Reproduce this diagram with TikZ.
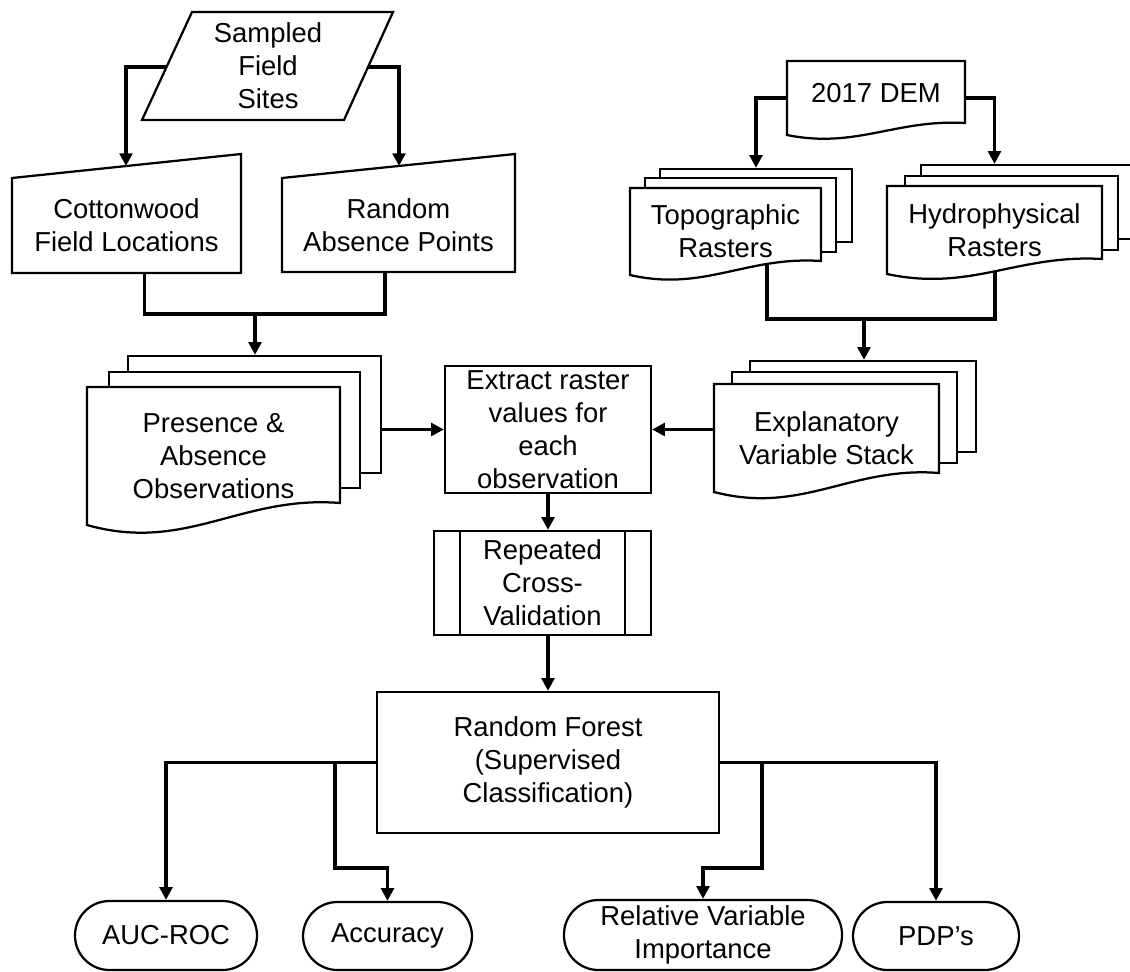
\documentclass[tikz,border=0pt]{standalone}
\usepackage{fontspec}
\setmainfont{Liberation Sans}
\usetikzlibrary{arrows.meta}
\usetikzlibrary{calc}

\begin{document}
\begin{tikzpicture}[x=0.025cm, y=-0.025cm,
    font=\fontsize{19.5}{23.5}\selectfont,
    dims/.style 2 args={minimum width=#1*0.025cm, minimum height=#2*0.025cm},
    outline/.style={draw, line width=1.6pt, fill=white},
    txt/.style={inner sep=0pt, align=center},
    sheet/.style={outline, inner sep=0pt},
    procbox/.style={outline, inner sep=0pt, align=center},
    term/.style={outline, inner sep=0pt, align=center, rounded corners=0.86cm},
    line/.style={line width=2.3pt},
    arrow/.style={line, -{Triangle[length=9pt,width=9pt]}}]
    \useasboundingbox[fill=white] (0,0) rectangle (1130,972);

    \draw[outline] (192,12) -- (393,12) -- (344,120) -- (142,120) -- cycle;
    \node[txt] (sfs) at (268,66) {Sampled\\Field\\Sites};
    \coordinate (sfs-l) at (167,67);
    \coordinate (sfs-r) at (368,67);

    \draw[outline] (12,178) -- (241,154) -- (241,273) -- (12,273) -- cycle;
    \node[txt, dims={229}{95}] (cw) at (126.5,225.5) {Cottonwood\\Field Locations};
    \draw[outline] (282,178) -- (515,154) -- (515,272) -- (282,272) -- cycle;
    \node[txt, dims={233}{94}] (rap) at (398.5,225) {Random\\Absence Points};
    \coordinate (cw-in) at (126,166);
    \coordinate (rap-in) at (399,166);
    \draw[arrow] (sfs-l) -| (cw-in);
    \draw[arrow] (sfs-r) -| (rap-in);

    \node[sheet, dims={253}{117}] (pao-3) at (254.5,414.5) {};
    \node[sheet, dims={251}{116}] (pao-2) at (234.5,430) {};
    \draw[outline] (87,387) -- (340,387) -- (340,503) .. controls (241,495) and (186,553) .. (87,525) -- cycle;
    \node[txt, dims={253}{138}] (pao) at (213.5,456) {Presence \&\\Absence\\Observations};
    \coordinate (pao-in) at (255,314);
    \draw[line] ($(cw.south)+(18,0)$) |- (pao-in);
    \draw[line] ($(rap.south)+(-13.5,0)$) |- (pao-in);
    \draw[arrow] (pao-in) -- (pao-in |- pao-3.north);

    \draw[outline] (787,61) -- (965,61) -- (965,123) .. controls (896,119) and (856,149) .. (787,135) -- cycle;
    \node[txt, dims={178}{74}, text depth=0.25cm] (dem) at (876,98) {2017 DEM};

    \node[sheet, dims={192}{73}] (topo-3) at (756,205.5) {};
    \node[sheet, dims={191}{74}] (topo-2) at (740.5,215) {};
    \draw[outline] (630,188) -- (821,188) -- (821,261) .. controls (746,256) and (704,292) .. (630,275) -- cycle;
    \node[txt, dims={191}{87}] (topo) at (725.5,231.5) {Topographic\\Rasters};

    \node[sheet, dims={215}{74}] (hyd-3) at (1028.5,202) {};
    \node[sheet, dims={213}{74}] (hyd-2) at (1011.5,213) {};
    \draw[outline] (887,186) -- (1102,186) -- (1102,259) .. controls (1018,254) and (971,292) .. (887,274) -- cycle;
    \node[txt, dims={215}{88}] (hyd) at (994.5,230) {Hydrophysical\\Rasters};

    \draw[arrow] (dem.west) -| (topo-3.north);
    \draw[arrow] (dem.east) -| (hyd.north |- hyd-3.north);

    \node[sheet, dims={226}{91}] (evs-3) at (863,406.5) {};
    \node[sheet, dims={225}{91}] (evs-2) at (844.5,417.5) {};
    \draw[outline] (714,384) -- (939,384) -- (939,473) .. controls (851,466) and (802,515) .. (714,492) -- cycle;
    \node[txt, dims={225}{108}] (evs) at (826.5,438) {Explanatory\\Variable Stack};
    \coordinate (topo-out) at (767,264);
    \coordinate (hyd-out) at (995,271);
    \coordinate (evs-in) at (864,319);
    \draw[line] (topo-out) |- (evs-in);
    \draw[line] (hyd-out) |- (evs-in);
    \draw[arrow] (evs-in) -- (evs-in |- evs-3.north);

    \node[procbox, dims={206}{127}] (ext) at (548,429.5) {Extract raster\\values for\\each\\observation};
    \draw[arrow] (pao-3.east |- ext.west) -- (ext.west);
    \draw[arrow] (evs.west |- ext.east) -- (ext.east);

    \node[procbox, dims={217}{104}] (rcv) at (542.5,583) {Repeated\\Cross-\\Validation};
    \draw[line width=1.6pt] ($(rcv.north west)+(27,0)$) -- ($(rcv.south west)+(27,0)$);
    \draw[line width=1.6pt] ($(rcv.north east)+(-27,0)$) -- ($(rcv.south east)+(-27,0)$);
    \draw[arrow] (ext.south) -- (ext.south |- rcv.north);

    \node[procbox, dims={342}{141}] (rf) at (548,762.5) {Random Forest\\(Supervised\\Classification)};
    \draw[arrow] (rf.north |- rcv.south) -- (rf.north);

    \node[term, dims={182}{69}] (auc) at (166,935.5) {AUC-ROC};
    \node[term, dims={169}{68}] (acc) at (387.5,936) {Accuracy};
    \node[term, dims={278}{70}] (rvi) at (703,935) {Relative Variable\\Importance};
    \node[term, dims={166}{68}] (pdp) at (936,936) {PDP’s};

    \coordinate (acc-br) at (335,868);
    \coordinate (rvi-br) at (762,868);
    \draw[arrow] (rf.west) -| (auc.north);
    \draw[arrow] (acc-br |- rf.west) -- (acc-br) -| (acc.north);
    \draw[arrow] (rf.east) -| (pdp.north);
    \draw[arrow] (rvi-br |- rf.east) -- (rvi-br) -| (rvi.north);
\end{tikzpicture}
\end{document}
